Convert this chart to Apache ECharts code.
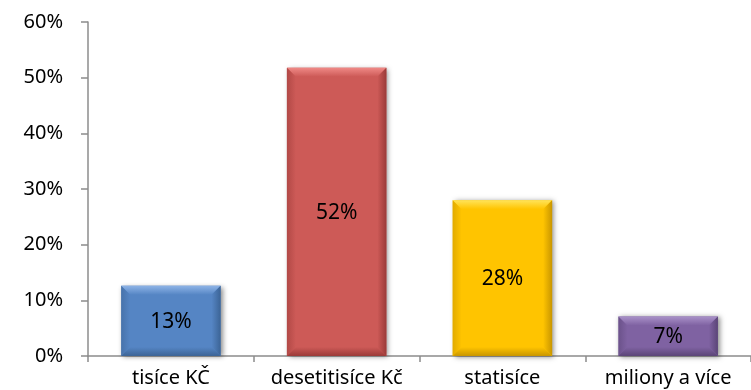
<!DOCTYPE html>
<html>
<head>
<meta charset="utf-8">
<script src="https://cdn.jsdelivr.net/npm/echarts@6/dist/echarts.min.js"></script>
<style>
  html, body { margin: 0; padding: 0; background: #fff; }
  #chart { width: 751px; height: 390px; }
</style>
</head>
<body>
<div id="chart"></div>
<script>
// data
var categories = ['tisíce KČ', 'desetitisíce Kč', 'statisíce', 'miliony a více'];
var shares = [12.6, 51.8, 28.0, 7.1];
var yTicks = { min: 0, max: 60, step: 10 };

var palette = [
  { base: '#5585c4', light: '#8db3e6', dark: '#3c6496' },
  { base: '#cd5a57', light: '#f08a87', dark: '#9b3a38' },
  { base: '#ffc400', light: '#ffe45a', dark: '#c99600' },
  { base: '#7f62a2', light: '#a991c8', dark: '#5b4577' }
];

var FONT = '"Noto Sans", sans-serif';

function renderBar(params, api) {
  var idx = params.dataIndex;
  var top = api.coord([api.value(0), api.value(1)]);
  var base = api.coord([api.value(0), 0]);
  var w = api.size([1, 0])[0] * 0.6;
  var x0 = top[0] - w / 2, x1 = top[0] + w / 2;
  var y0 = top[1], y1 = base[1];
  var b = Math.min(9, (y1 - y0) / 2);
  var c = palette[idx];
  return {
    type: 'group',
    children: [
      {
        type: 'rect',
        shape: { x: x0, y: y0, width: w, height: y1 - y0 },
        style: { fill: c.base, shadowBlur: 5, shadowOffsetX: 2, shadowOffsetY: 1, shadowColor: 'rgba(0,0,0,0.45)' }
      },
      { // top bevel
        type: 'polygon',
        shape: { points: [[x0, y0], [x1, y0], [x1 - b, y0 + b], [x0 + b, y0 + b]] },
        style: { fill: new echarts.graphic.LinearGradient(0, 0, 0, 1, [
          { offset: 0, color: c.light }, { offset: 1, color: c.base }]) }
      },
      { // left bevel
        type: 'polygon',
        shape: { points: [[x0, y0], [x0 + b, y0 + b], [x0 + b, y1 - b], [x0, y1]] },
        style: { fill: new echarts.graphic.LinearGradient(0, 0, 1, 0, [
          { offset: 0, color: c.dark }, { offset: 1, color: c.base }]), opacity: 0.55 }
      },
      { // right bevel
        type: 'polygon',
        shape: { points: [[x1, y0], [x1, y1], [x1 - b, y1 - b], [x1 - b, y0 + b]] },
        style: { fill: new echarts.graphic.LinearGradient(1, 0, 0, 0, [
          { offset: 0, color: c.dark }, { offset: 1, color: c.base }]) }
      },
      { // bottom bevel
        type: 'polygon',
        shape: { points: [[x0, y1], [x0 + b, y1 - b], [x1 - b, y1 - b], [x1, y1]] },
        style: { fill: new echarts.graphic.LinearGradient(0, 1, 0, 0, [
          { offset: 0, color: c.dark }, { offset: 1, color: c.base }]) }
      },
      {
        type: 'text',
        style: {
          text: Math.round(api.value(1)) + '%',
          x: top[0], y: (y0 + y1) / 2 + 1,
          align: 'center', verticalAlign: 'middle',
          fill: '#000', font: '21px ' + FONT
        }
      }
    ]
  };
}

var chart = echarts.init(document.getElementById('chart'), null, { renderer: 'canvas' });
chart.setOption({
  animation: false,
  backgroundColor: '#fff',
  grid: { left: 88, right: 0, top: 22, bottom: 34 },
  xAxis: {
    type: 'category',
    data: categories,
    axisLine: { lineStyle: { color: '#8c8c8c', width: 1.5 } },
    axisTick: { show: true, length: 6, lineStyle: { color: '#8c8c8c', width: 1.5 } },
    axisLabel: { color: '#000', fontFamily: FONT, fontSize: 20, margin: 12, interval: 0, hideOverlap: false }
  },
  yAxis: {
    type: 'value',
    min: yTicks.min, max: yTicks.max, interval: yTicks.step,
    axisLine: { show: true, lineStyle: { color: '#8c8c8c', width: 1.5 } },
    axisTick: { show: true, length: 7, lineStyle: { color: '#8c8c8c', width: 1.5 } },
    splitLine: { show: false },
    axisLabel: { color: '#000', fontFamily: FONT, fontSize: 20, margin: 25, formatter: '{value}%' }
  },
  series: [{
    type: 'custom',
    renderItem: renderBar,
    encode: { x: 0, y: 1 },
    data: shares.map(function (v, i) { return [i, v]; })
  }]
});
</script>
</body>
</html>
